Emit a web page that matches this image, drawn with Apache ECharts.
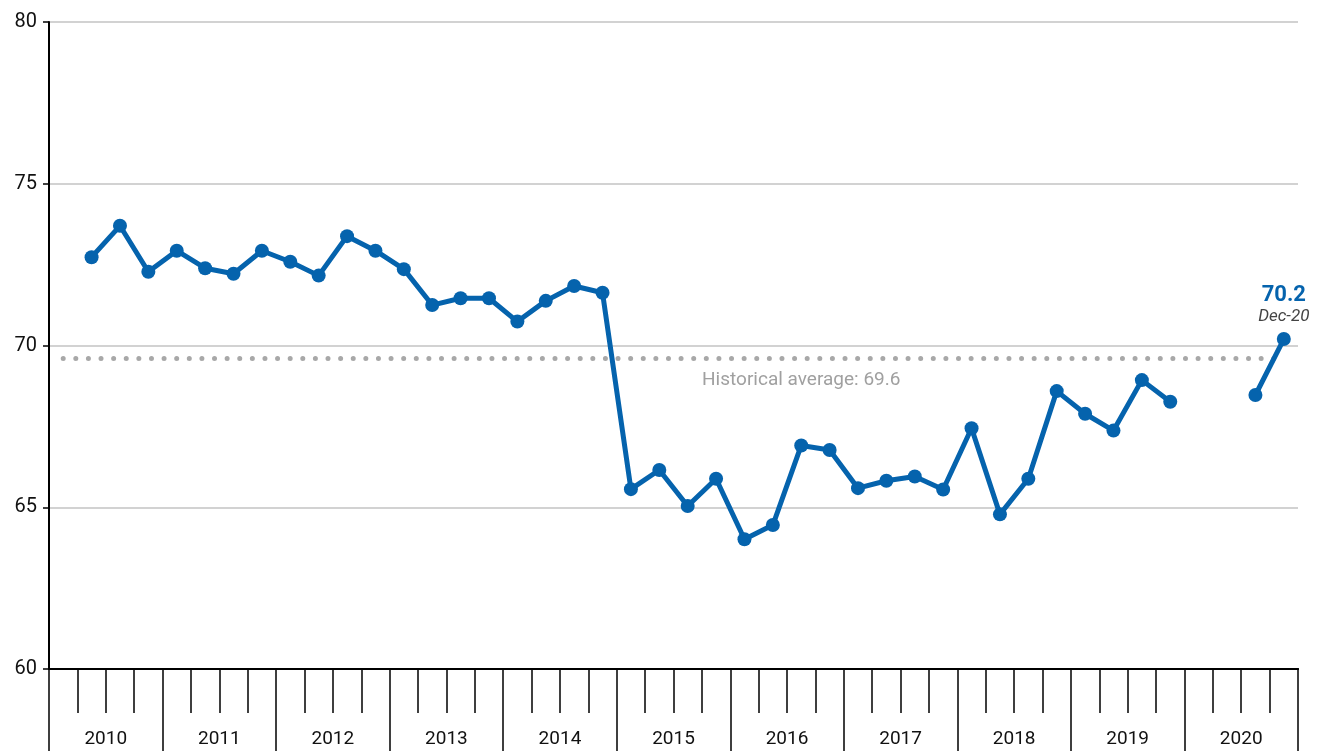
<!DOCTYPE html>
<html>
<head>
<meta charset="utf-8">
<script src="https://cdn.jsdelivr.net/npm/echarts@6/dist/echarts.min.js"></script>
<style>
html,body{margin:0;padding:0;background:#fff;}
#chart{width:1320px;height:751px;}
</style>
</head>
<body>
<div id="chart"></div>
<script>
var quarters = [
  'Mar-10','Jun-10','Sep-10','Dec-10',
  'Mar-11','Jun-11','Sep-11','Dec-11',
  'Mar-12','Jun-12','Sep-12','Dec-12',
  'Mar-13','Jun-13','Sep-13','Dec-13',
  'Mar-14','Jun-14','Sep-14','Dec-14',
  'Mar-15','Jun-15','Sep-15','Dec-15',
  'Mar-16','Jun-16','Sep-16','Dec-16',
  'Mar-17','Jun-17','Sep-17','Dec-17',
  'Mar-18','Jun-18','Sep-18','Dec-18',
  'Mar-19','Jun-19','Sep-19','Dec-19',
  'Mar-20','Jun-20','Sep-20','Dec-20'
];
var years = ['2010','2011','2012','2013','2014','2015','2016','2017','2018','2019','2020'];
var values = [
  null, 72.73, 73.70, 72.28,
  72.93, 72.39, 72.22, 72.93,
  72.59, 72.16, 73.38, 72.93,
  72.36, 71.25, 71.46, 71.46,
  70.74, 71.38, 71.84, 71.63,
  65.56, 66.15, 65.04, 65.88,
  64.01, 64.45, 66.91, 66.77,
  65.59, 65.82, 65.95, 65.55,
  67.44, 64.78, 65.88, 68.59,
  67.89, 67.37, 68.93, 68.26,
  null, null, 68.47, 70.2
];
var historicalAverage = 69.6;
var yTicks = [60, 65, 70, 75, 80];

var FONT = '"Liberation Sans Narrow", Roboto, "Noto Sans", sans-serif';
var BLUE = '#0563ad';
var lastIdx = values.length - 1;

var chart = echarts.init(document.getElementById('chart'), null, {renderer: 'canvas'});
chart.setOption({
  animation: false,
  backgroundColor: '#ffffff',
  grid: {left: 49, right: 22, top: 22, bottom: 82, containLabel: false},
  xAxis: [
    {
      type: 'category',
      data: quarters,
      boundaryGap: true,
      position: 'bottom',
      axisLine: {show: true, lineStyle: {color: '#000', width: 2}},
      axisTick: {show: true, interval: 0, length: 44, lineStyle: {color: '#000', width: 1.5}},
      axisLabel: {show: false},
      splitLine: {show: false}
    },
    {
      type: 'category',
      data: years,
      boundaryGap: true,
      position: 'bottom',
      axisLine: {show: true, lineStyle: {color: '#000', width: 2}},
      axisTick: {show: true, interval: 0, length: 100, lineStyle: {color: '#000', width: 1.5}},
      axisLabel: {show: true, interval: 0, margin: 61, color: '#111', fontFamily: FONT, fontSize: 19, verticalAlign: 'top'},
      splitLine: {show: false}
    }
  ],
  yAxis: {
    type: 'value',
    min: yTicks[0],
    max: yTicks[yTicks.length - 1],
    interval: 5,
    axisLine: {show: true, lineStyle: {color: '#000', width: 2}},
    axisTick: {show: true, length: 6, lineStyle: {color: '#000', width: 1.5}},
    axisLabel: {show: true, margin: 12, color: '#111', fontFamily: FONT, fontSize: 20},
    splitLine: {show: true, lineStyle: {color: '#c3c3c3', width: 1.5}}
  },
  series: [
    {
      type: 'line',
      xAxisIndex: 0,
      data: values,
      connectNulls: false,
      symbol: 'circle',
      symbolSize: 14,
      showSymbol: true,
      lineStyle: {color: BLUE, width: 5},
      itemStyle: {color: BLUE},
      z: 5,
      markLine: {
        silent: true,
        symbol: ['none', 'none'],
        label: {show: false},
        lineStyle: {color: '#a8a8a8', width: 5, type: [0.01, 12.6], cap: 'round'},
        data: [[
          {coord: [0, historicalAverage]},
          {coord: [lastIdx, historicalAverage]}
        ]],
        z: 2
      },
      markPoint: {
        silent: true,
        symbol: 'circle',
        symbolSize: 0,
        data: [
          {
            coord: [26, historicalAverage],
            label: {
              show: true,
              position: 'bottom',
              distance: 12,
              formatter: 'Historical average: ' + historicalAverage.toFixed(1),
              color: '#a0a0a0',
              fontFamily: FONT,
              fontSize: 19
            }
          },
          {
            coord: [lastIdx, values[lastIdx]],
            label: {
              show: true,
              position: 'top',
              distance: 12,
              formatter: '{v|' + values[lastIdx].toFixed(1) + '}\n{d|' + quarters[lastIdx] + '}',
              rich: {
                v: {color: BLUE, fontFamily: FONT, fontSize: 22, fontWeight: 'bold', align: 'center', lineHeight: 24},
                d: {color: '#444', fontFamily: FONT, fontSize: 17, fontStyle: 'italic', align: 'center', lineHeight: 20}
              }
            }
          }
        ]
      }
    }
  ]
});
</script>
</body>
</html>
